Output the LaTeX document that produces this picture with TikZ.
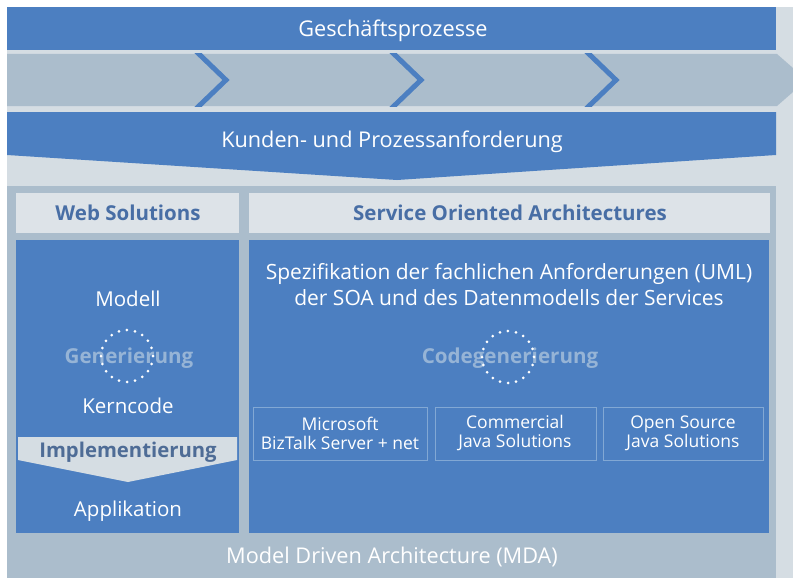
\documentclass[tikz,border=0pt]{standalone}
\usepackage{fontspec}
\setmainfont{Open Sans}
\definecolor{mblue}{RGB}{76,127,193}
\definecolor{bandgray}{RGB}{171,189,204}
\definecolor{lightbg}{RGB}{213,221,227}
\definecolor{hdrbg}{RGB}{221,227,232}
\definecolor{hdrtext}{RGB}{72,110,165}
\definecolor{impltext}{RGB}{78,108,150}
\definecolor{fadetext}{RGB}{150,180,214}
\definecolor{boxline}{RGB}{130,168,212}
\begin{document}
\begin{tikzpicture}[x=1pt,y=-1pt,
  big/.style={text=white,font=\fontsize{21.7}{26}\selectfont,inner sep=0pt,anchor=base},
  hdr/.style={text=hdrtext,font=\bfseries\fontsize{20.5}{24}\selectfont,inner sep=0pt,anchor=base},
  body/.style={text=white,font=\fontsize{20.5}{26}\selectfont,inner sep=0pt,anchor=base,align=center},
  fade/.style={text=fadetext,font=\bfseries\fontsize{20.6}{24}\selectfont,inner sep=0pt,anchor=base},
  small/.style={text=white,font=\fontsize{17.5}{19}\selectfont,inner sep=0pt,align=center},
  dotring/.style={white,line width=3pt,line cap=round,dash pattern=on 0pt off 8.15pt},
  chev/.style={mblue,line width=5pt,miter limit=10},
  subbox/.style={draw=boxline,line width=1pt}
]
\useasboundingbox (0,0) rectangle (793,578);
\fill[white] (0,0) rectangle (793,578);
\fill[lightbg] (7,7) rectangle (793,578);
% top band
\fill[mblue] (7,7) rectangle (776,50);
\node[big] (gp) at (393,37) {Geschäftsprozesse};
% chevron band
\fill[bandgray] (7,54) -- (777,54) -- (793,68) -- (793,92) -- (777,106) -- (7,106) -- cycle;
\begin{scope}
  \clip (7,54) rectangle (793,106);
  \foreach \x in {199,394,589}
    \draw[chev] (\x-4.2,50) -- (\x+27,80) -- (\x-4.2,110);
\end{scope}
% requirements arrow
\fill[mblue] (7,112) -- (776,112) -- (776,155) -- (397,180) -- (7,155) -- cycle;
\node[big] (kp) at (392,147) {Kunden- und Prozessanforderung};
% MDA panel
\fill[bandgray] (7,186) rectangle (776,578);
\fill[hdrbg] (16,193) rectangle (239,233);
\fill[hdrbg] (249,193) rectangle (770,233);
\node[hdr] (ws) at (128,220) {Web Solutions};
\node[hdr] (soa) at (510,220) {Service Oriented Architectures};
\fill[mblue] (16,240) rectangle (239,533);
\fill[mblue] (249,240) rectangle (769,533);
% left column
\node[body] (mod) at (128,306) {Modell};
\node[fade] (gen) at (129,363) {Generierung};
\draw[dotring] (127,356) circle[radius=26];
\node[body] (kc) at (128,413) {Kerncode};
\fill[lightbg] (18,437) -- (237,437) -- (237,460) -- (128,482) -- (18,460) -- cycle;
\node[hdr,text=impltext,font=\bfseries\fontsize{20.3}{24}\selectfont] (impl) at (128,457) {Implementierung};
\node[body] (app) at (128,516) {Applikation};
% right column
\node[body,anchor=center,font=\fontsize{21}{26}\selectfont] (spec) at (509,285) {Spezifikation der fachlichen Anforderungen (UML)\\der SOA und des Datenmodells der Services};
\node[fade] (cg) at (510,363) {Codegenerierung};
\draw[dotring] (508,357) circle[radius=26];
\draw[subbox] (253,407) rectangle (427,460);
\draw[subbox] (435,407) rectangle (596,460);
\draw[subbox] (603,407) rectangle (763,460);
\node[small] (ms) at (340,433) {Microsoft\\BizTalk Server + net};
\node[small] (cj) at (515,433) {Commercial\\Java Solutions};
\node[small] (oj) at (683,433) {Open Source\\Java Solutions};
% MDA label
\node[big] (mda) at (392,563) {Model Driven Architecture (MDA)};
\end{tikzpicture}
\end{document}
